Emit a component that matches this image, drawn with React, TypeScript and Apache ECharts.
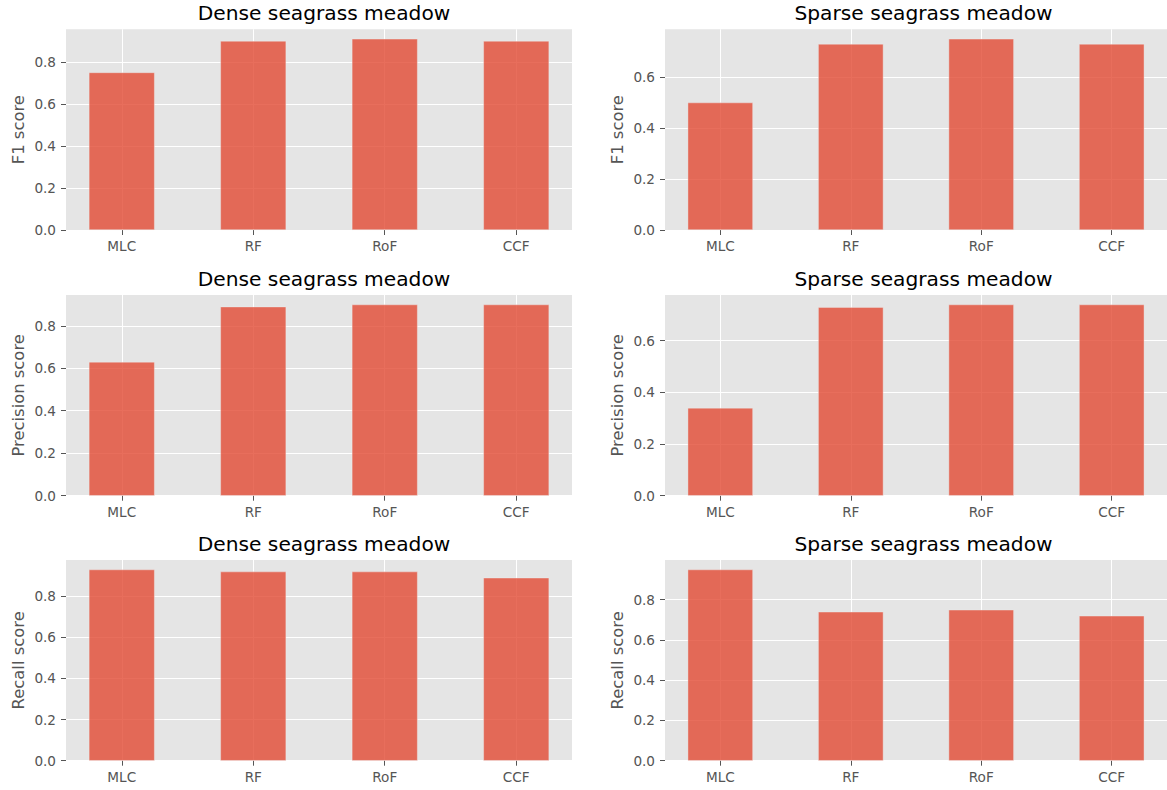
import React, { useEffect, useRef } from "react";
import * as echarts from "echarts";

const categories = ["MLC", "RF", "RoF", "CCF"];
const denseF1 = [0.75, 0.9, 0.91, 0.9];
const sparseF1 = [0.5, 0.73, 0.75, 0.73];
const densePrecision = [0.63, 0.89, 0.9, 0.9];
const sparsePrecision = [0.34, 0.73, 0.74, 0.74];
const denseRecall = [0.93, 0.92, 0.92, 0.89];
const sparseRecall = [0.95, 0.74, 0.75, 0.72];
const yTickValues = [0, 0.2, 0.4, 0.6, 0.8];
const denseTitle = "Dense seagrass meadow";
const sparseTitle = "Sparse seagrass meadow";
const f1Label = "F1 score";
const precisionLabel = "Precision score";
const recallLabel = "Recall score";

const panels = [
  { title: denseTitle, yName: f1Label, values: denseF1 },
  { title: sparseTitle, yName: f1Label, values: sparseF1 },
  { title: denseTitle, yName: precisionLabel, values: densePrecision },
  { title: sparseTitle, yName: precisionLabel, values: sparsePrecision },
  { title: denseTitle, yName: recallLabel, values: denseRecall },
  { title: sparseTitle, yName: recallLabel, values: sparseRecall },
];

const FONT = "DejaVu Sans";
const COL_LEFT = [66, 665];
const COL_W = [506, 507];
const ROW_TOP = [29.3, 295, 560];
const PLOT_H = 200.7;
const X_PAD = 0.424;

export default function App() {
  const ref = useRef<HTMLDivElement>(null);
  useEffect(() => {
    if (!ref.current) return;
    const chart = echarts.init(ref.current, null, { renderer: "svg" });
    const grids: any[] = [];
    const xAxes: any[] = [];
    const yAxes: any[] = [];
    const series: any[] = [];
    const titles: any[] = [];
    panels.forEach((p, i) => {
      const col = i % 2;
      const row = Math.floor(i / 2);
      const left = COL_LEFT[col];
      const width = COL_W[col];
      const top = ROW_TOP[row];
      grids.push({
        left,
        top,
        width,
        height: PLOT_H,
        show: true,
        backgroundColor: "#E5E5E5",
        borderWidth: 0,
        containLabel: false,
      });
      titles.push({
        text: p.title,
        left: left + width / 2,
        top: top - 31.5,
        textAlign: "center",
        textStyle: { fontFamily: FONT, fontSize: 20.2, fontWeight: "normal", color: "#000" },
      });
      const yMax = Math.max(...p.values) * 1.05;
      const ticks = yTickValues.filter((v) => v <= yMax);
      xAxes.push({
        type: "value",
        gridIndex: i,
        min: -X_PAD,
        max: categories.length - 1 + X_PAD,
        axisLine: { show: false, onZero: false },
        axisTick: {
          show: true,
          length: 5,
          lineStyle: { color: "#555", width: 1 },
          customValues: categories.map((_, k) => k),
        },
        axisLabel: {
          customValues: categories.map((_, k) => k),
          formatter: (v: number) => categories[Math.round(v)] ?? "",
          color: "#555",
          fontFamily: FONT,
          fontSize: 13.6,
          margin: 9,
        },
        splitLine: { show: true, lineStyle: { color: "#fff", width: 1 } },
      });
      yAxes.push({
        type: "value",
        gridIndex: i,
        min: 0,
        max: yMax,
        name: p.yName,
        nameLocation: "middle",
        nameRotate: 90,
        nameGap: 40,
        nameTextStyle: { fontFamily: FONT, fontSize: 16.4, color: "#555" },
        axisLine: { show: false, onZero: false },
        axisTick: { show: true, length: 5, lineStyle: { color: "#555", width: 1 }, customValues: ticks },
        axisLabel: {
          customValues: ticks,
          formatter: (v: number) => v.toFixed(1),
          color: "#555",
          fontFamily: FONT,
          fontSize: 13.6,
          margin: 10,
        },
        splitLine: { show: true, lineStyle: { color: "#fff", width: 1 } },
      });
      series.push({
        type: "bar",
        xAxisIndex: i,
        yAxisIndex: i,
        barWidth: "50%",
        data: p.values.map((v, k) => [k, v]),
        itemStyle: {
          color: "rgba(226,74,51,0.8)",
          borderColor: "rgba(238,238,238,0.8)",
          borderWidth: 0.5,
        },
        silent: true,
      });
    });
    chart.setOption({
      animation: false,
      title: titles,
      grid: grids,
      xAxis: xAxes,
      yAxis: yAxes,
      series,
    });
    return () => chart.dispose();
  }, []);
  return (
    <div
      ref={ref}
      style={{ position: "absolute", left: 0, top: 0, width: 1167, height: 790, background: "#fff" }}
    />
  );
}
